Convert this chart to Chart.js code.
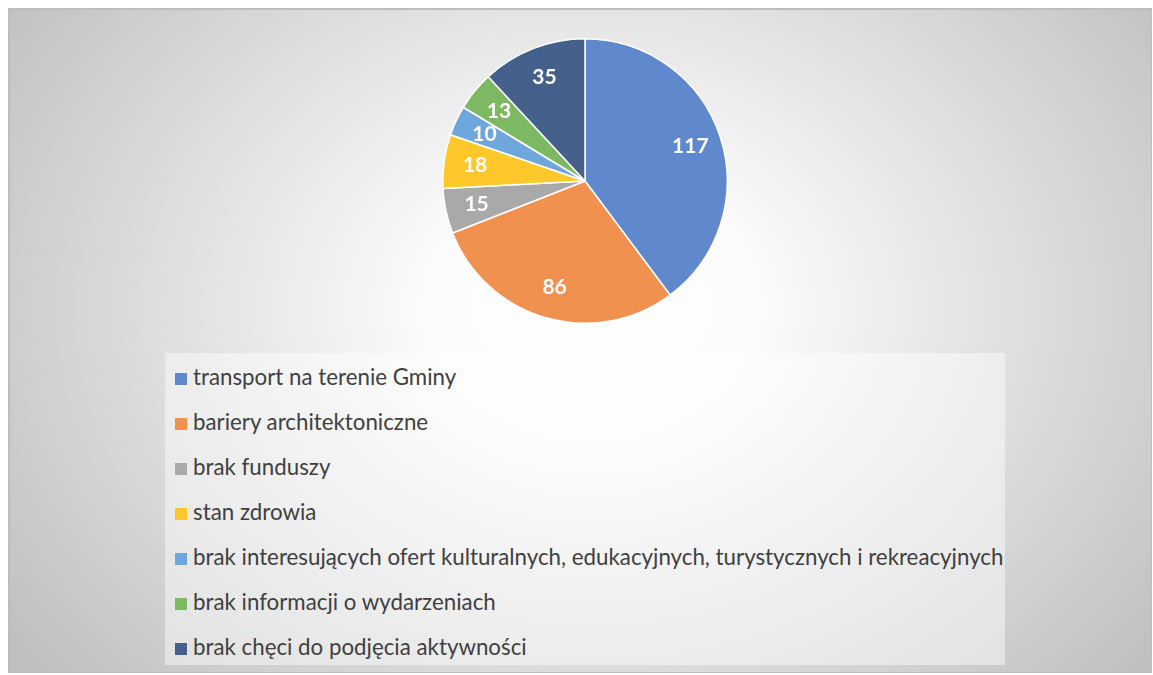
<!DOCTYPE html>
<html>
<head>
<meta charset="utf-8">
<script src="https://cdn.jsdelivr.net/npm/chart.js@4"></script>
<style>
  html, body { margin: 0; padding: 0; width: 1153px; height: 675px; overflow: hidden; background: #fff; }
  #frame {
    position: absolute; left: 8px; top: 8px; width: 1144px; height: 665px;
    box-sizing: border-box;
    border: 2px solid #bdbdbd; border-right-width: 1px; border-bottom-width: 1px;
    background: radial-gradient(ellipse 62% 85% at 51% 45%, #ffffff 0%, #fcfcfc 22%, #c0c0c0 100%);
  }
  #pie-wrap { position: absolute; left: 435px; top: 31px; width: 300px; height: 300px; }
  #legend {
    position: absolute; left: 165px; top: 353px; width: 840px; height: 312px;
    background: rgba(255,255,255,0.45);
    font-family: Lato, "Open Sans", sans-serif; font-size: 22.3px; color: #404040;
  }
  .item { position: absolute; left: 10px; height: 26px; line-height: 26px; white-space: nowrap; }
  .item .box { display: inline-block; width: 12px; height: 12px; margin-right: 6px; vertical-align: 0px; }
</style>
</head>
<body>
<div id="frame"></div>
<div id="pie-wrap"><canvas id="pie"></canvas></div>
<div id="legend"></div>
<script>
const labels = [
  'transport na terenie Gminy',
  'bariery architektoniczne',
  'brak funduszy',
  'stan zdrowia',
  'brak interesujących ofert kulturalnych, edukacyjnych, turystycznych i rekreacyjnych',
  'brak informacji o wydarzeniach',
  'brak chęci do podjęcia aktywności'
];
const values = [117, 86, 15, 18, 10, 13, 35];
const colors = ['#6088cd', '#f0914f', '#a9a9a9', '#fec82b', '#6fa6db', '#7db862', '#46608c'];

// white bold numbers inside each slice
const sliceLabels = {
  id: 'sliceLabels',
  afterDatasetsDraw(chart) {
    const ctx = chart.ctx;
    const meta = chart.getDatasetMeta(0);
    ctx.save();
    ctx.fillStyle = '#ffffff';
    ctx.font = 'bold 21px Lato, "Open Sans", sans-serif';
    ctx.textAlign = 'center';
    ctx.textBaseline = 'middle';
    meta.data.forEach((arc, i) => {
      const p = arc.getProps(['x', 'y', 'startAngle', 'endAngle', 'outerRadius'], true);
      const mid = (p.startAngle + p.endAngle) / 2;
      const r = p.outerRadius * 0.78;
      ctx.fillText(String(values[i]), p.x + Math.cos(mid) * r, p.y + Math.sin(mid) * r);
    });
    ctx.restore();
  }
};

new Chart(document.getElementById('pie'), {
  type: 'pie',
  data: {
    labels: labels,
    datasets: [{
      data: values,
      backgroundColor: colors,
      borderColor: '#ffffff',
      borderWidth: 1.5
    }]
  },
  options: {
    responsive: true,
    maintainAspectRatio: false,
    animation: false,
    layout: { padding: 7 },
    plugins: {
      legend: { display: false },
      tooltip: { enabled: false }
    }
  },
  plugins: [sliceLabels]
});

// legend as real text, built from the same arrays
const legendEl = document.getElementById('legend');
labels.forEach((lab, i) => {
  const div = document.createElement('div');
  div.className = 'item';
  div.style.top = (11 + i * 45) + 'px';
  const box = document.createElement('span');
  box.className = 'box';
  box.style.background = colors[i];
  div.appendChild(box);
  div.appendChild(document.createTextNode(lab));
  legendEl.appendChild(div);
});
</script>
</body>
</html>
